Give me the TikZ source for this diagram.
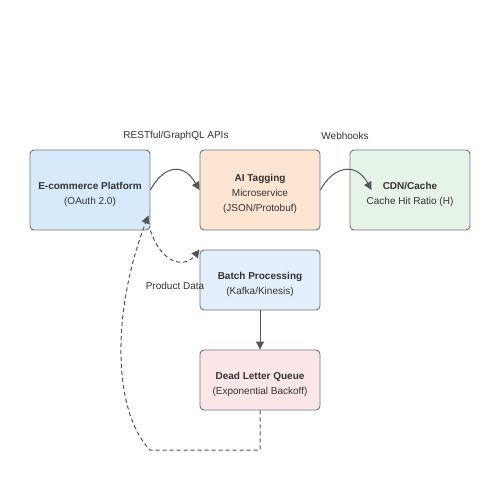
\documentclass[tikz,border=0pt]{standalone}
\usepackage{fontspec}
\setmainfont{Liberation Sans}
\usetikzlibrary{arrows.meta}
\definecolor{bordc}{HTML}{777777}
\definecolor{edgec}{HTML}{555555}
\definecolor{txtc}{HTML}{333333}
\definecolor{cblue}{HTML}{D6EAFB}
\definecolor{cpeach}{HTML}{FDE5D2}
\definecolor{cgreen}{HTML}{E6F4E7}
\definecolor{clblue}{HTML}{E3F0FB}
\definecolor{cpink}{HTML}{FDE6E8}
\newcommand{\topgap}{\mbox{}\\[1pt]}
\tikzset{
  box/.style={draw=bordc, line width=0.9pt, rounded corners=4pt, minimum width=120pt, align=center, font=\fontsize{10}{15}\selectfont, text=txtc, inner sep=0pt},
  conn/.style={draw=edgec, line width=1pt, -{Triangle[length=8pt,width=8pt]}},
  dconn/.style={conn, dash pattern=on 4pt off 3pt},
  lbl/.style={font=\fontsize{10}{12}\selectfont, text=txtc}
}
\begin{document}
\begin{tikzpicture}[x=1pt,y=-1pt]
\useasboundingbox (0,0) rectangle (500,500);
\fill[white] (0,0) rectangle (500,500);
\node[box, fill=cblue, minimum height=80pt] (eco) at (90,190) {\topgap\textbf{E-commerce Platform}\\(OAuth 2.0)};
\node[box, fill=cpeach, minimum height=80pt] (ai) at (260,190) {\topgap\textbf{AI Tagging}\\Microservice\\(JSON/Protobuf)};
\node[box, fill=cgreen, minimum height=80pt] (cdn) at (410,190) {\topgap\textbf{CDN/Cache}\\Cache Hit Ratio (H)};
\node[box, fill=clblue, minimum height=60pt] (batch) at (260,280) {\topgap\textbf{Batch Processing}\\(Kafka/Kinesis)};
\node[box, fill=cpink, minimum height=60pt] (dlq) at (260,380) {\topgap\textbf{Dead Letter Queue}\\(Exponential Backoff)};
\node[lbl] (l1) at (176,136) {RESTful/GraphQL APIs};
\node[lbl] (l2) at (345,136) {Webhooks};
\node[lbl] (l3) at (175,286) {Product Data};
\draw[conn] (eco.east) .. controls (162,168) and (182,160) .. (ai.west);
\draw[conn] (ai.east) .. controls (332,168) and (355,160) .. ([xshift=22pt]cdn.west);
\draw[dconn] (eco.south east) .. controls (162,265) and (185,268) .. (batch.north west);
\draw[conn] (batch.south) -- (dlq.north);
\coordinate (c1) at (260,450);
\coordinate (c2) at (150,450);
\draw[dconn] (dlq.south) -- (c1) -- (c2) .. controls (112,410) and (112,310) .. ([xshift=-2pt,yshift=15pt]eco.south east);
\end{tikzpicture}
\end{document}
